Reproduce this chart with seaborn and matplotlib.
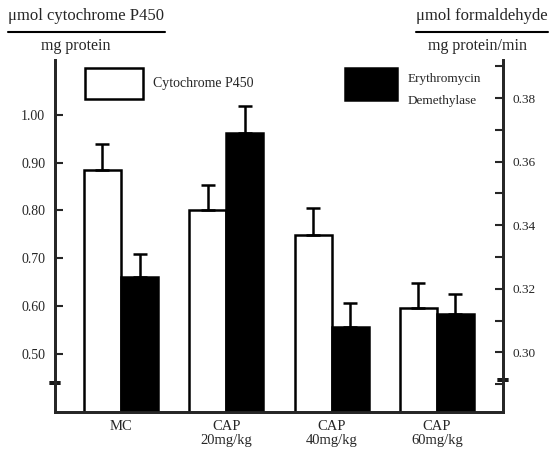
import numpy as np
import pandas as pd
import matplotlib.pyplot as plt
import seaborn as sns
from matplotlib.patches import Rectangle
from matplotlib.lines import Line2D

sns.set_style("ticks")
plt.rcParams['font.family'] = ['Liberation Serif', 'DejaVu Serif']

# Dados
groups = ["MC", "CAP\n20mg/kg", "CAP\n40mg/kg", "CAP\n60mg/kg"]
cyto = [0.885, 0.800, 0.748, 0.595]
cyto_err = [0.055, 0.053, 0.057, 0.054]
eryth = [0.3238, 0.3690, 0.3081, 0.3122]
eryth_err = [0.0070, 0.0085, 0.0075, 0.0063]
left_ticks = [0.50, 0.60, 0.70, 0.80, 0.90, 1.00]
right_ticks = [0.30, 0.32, 0.34, 0.36, 0.38]

W, H = 550, 454
fig = plt.figure(figsize=(5.5, 4.54), dpi=100)
ax1 = fig.add_axes([55 / W, 1 - 412 / H, (503 - 55) / W, (412 - 60) / H])
ax2 = ax1.twinx()

pos = np.arange(len(groups))
half = 0.176
df1 = pd.DataFrame({"x": pos - half, "v": cyto})
df2 = pd.DataFrame({"x": pos + half, "v": eryth})

sns.barplot(data=df1, x="x", y="v", native_scale=True, width=0.352, color="white",
            edgecolor="black", linewidth=1.8, errorbar=None, ax=ax1)
sns.barplot(data=df2, x="x", y="v", native_scale=True, width=0.352, color="black",
            edgecolor="black", linewidth=1.8, errorbar=None, ax=ax2)

ax1.errorbar(pos - half, cyto, yerr=[np.zeros(4), cyto_err], fmt="none", ecolor="black",
             elinewidth=1.8, capsize=5, capthick=1.8)
ax2.errorbar(pos + half, eryth, yerr=[np.zeros(4), eryth_err], fmt="none", ecolor="black",
             elinewidth=1.8, capsize=5, capthick=1.8)

ax1.set_xlim(-0.627, 3.628)
ax1.set_ylim(0.378, 1.115)
ax2.set_ylim(0.2812, 0.392)

ax1.set_yticks(left_ticks)
ax1.set_yticklabels([f"{t:.2f}" for t in left_ticks], fontsize=10)
ax2.set_yticks(right_ticks)
ax2.set_yticklabels([f"{t:.2f}" for t in right_ticks], fontsize=9.5)
ax2.set_yticks(np.arange(0.29, 0.40, 0.02), minor=True)
ax1.tick_params(axis="y", direction="in", length=6, width=1.5, pad=7)
ax2.tick_params(axis="y", which="both", direction="in", length=6, width=1.5, pad=7)

ax1.set_xticks(pos)
ax1.set_xticklabels(groups, fontsize=10.5, linespacing=1.1)
ax1.tick_params(axis="x", length=0, pad=6)
ax1.set_xlabel("")
ax1.set_ylabel("")
ax2.set_ylabel("")

for a in (ax1, ax2):
    a.spines["top"].set_visible(False)
    for s in ("left", "right", "bottom"):
        a.spines[s].set_linewidth(2)
    a.grid(False)

# marcas de quebra do eixo
for xa, ya in ((0.0, 1 - (383 - 60) / 352), (1.0, 1 - (380 - 60) / 352)):
    for dy in (-0.004, 0.004):
        ax1.add_line(Line2D([xa - 0.012, xa + 0.012], [ya + dy, ya + dy], transform=ax1.transAxes,
                            color="black", lw=1.3, clip_on=False))

# legenda manual
fig.patches.append(Rectangle((85 / W, 1 - 99 / H), 58 / W, 31 / H, transform=fig.transFigure,
                             facecolor="white", edgecolor="black", lw=1.8))
fig.patches.append(Rectangle((345 / W, 1 - 100 / H), 52 / W, 32 / H, transform=fig.transFigure,
                             facecolor="black", edgecolor="black", lw=1.8))
fig.text(153 / W, 1 - 84 / H, "Cytochrome P450", fontsize=10, va="center")
fig.text(408 / W, 1 - 79 / H, "Erythromycin", fontsize=9.5, va="center")
fig.text(408 / W, 1 - 101 / H, "Demethylase", fontsize=9.5, va="center")

# unidades dos eixos
fig.text(8 / W, 1 - 16 / H, "μmol cytochrome P450", fontsize=12, va="center")
fig.add_artist(Line2D([8 / W, 165 / W], [1 - 32 / H, 1 - 32 / H], color="black", lw=1.5))
fig.text(76 / W, 1 - 46 / H, "mg protein", fontsize=11.5, va="center", ha="center")
fig.text(548 / W, 1 - 16 / H, "μmol formaldehyde", fontsize=12, va="center", ha="right")
fig.add_artist(Line2D([416 / W, 548 / W], [1 - 32 / H, 1 - 32 / H], color="black", lw=1.5))
fig.text(478 / W, 1 - 46 / H, "mg protein/min", fontsize=11.5, va="center", ha="center")

plt.savefig("out.png", dpi=100)
plt.close()
